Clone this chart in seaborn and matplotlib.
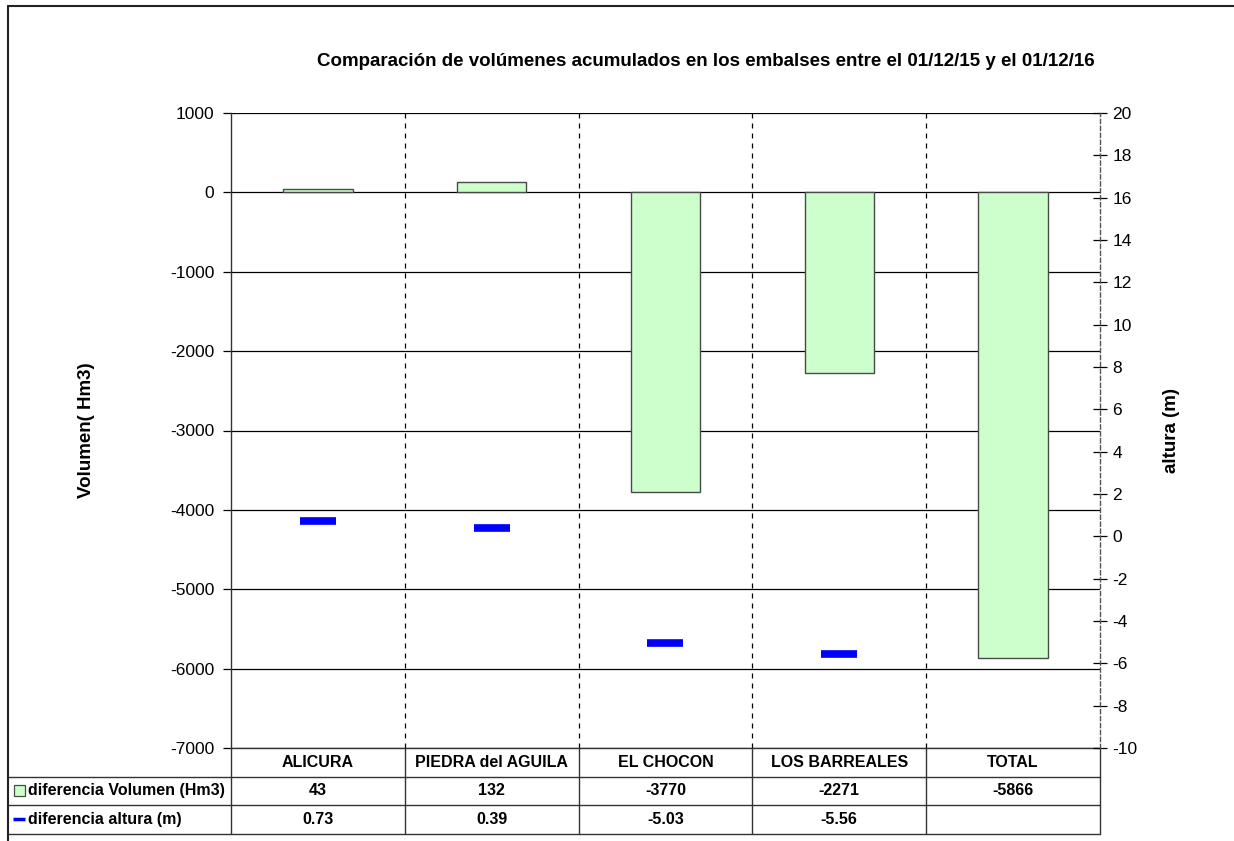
import matplotlib
matplotlib.use("Agg")
import matplotlib.pyplot as plt
import numpy as np
import pandas as pd
import seaborn as sns
from matplotlib.lines import Line2D
from matplotlib.patches import Rectangle
from matplotlib.transforms import blended_transform_factory

# Reservoir data: change between 01/12/15 and 01/12/16
embalses = ["ALICURA", "PIEDRA del AGUILA", "EL CHOCON", "LOS BARREALES", "TOTAL"]
dif_volumen = [43, 132, -3770, -2271, -5866]          # Hm3
dif_altura = [0.73, 0.39, -5.03, -5.56, np.nan]        # m (no value for TOTAL)
vol_labels = ["43", "132", "-3770", "-2271", "-5866"]
alt_labels = ["0.73", "0.39", "-5.03", "-5.56", ""]
serie_vol = "diferencia Volumen (Hm3)"
serie_alt = "diferencia altura (m)"

BAR_FILL = "#CCFFCC"
BAR_EDGE = "#4a4a4a"
ALT_COLOR = "#0000FF"

sns.set_theme(style="white")
plt.rcParams["font.family"] = ["Liberation Sans", "DejaVu Sans"]
plt.rcParams.update({"text.color": "black", "axes.labelcolor": "black",
                     "xtick.color": "black", "ytick.color": "black"})

W, H = 1234, 841
fig = plt.figure(figsize=(W / 100, H / 100), dpi=100)
L, R, T, B = 231, 1100, 113, 748
ax = fig.add_axes([L / W, 1 - B / H, (R - L) / W, (B - T) / H])

df = pd.DataFrame({"embalse": embalses, "volumen": dif_volumen})
sns.barplot(data=df, x="embalse", y="volumen", ax=ax, color=BAR_FILL,
            saturation=1, edgecolor=BAR_EDGE, linewidth=1.0, width=0.4, zorder=3)

ax.set_xlim(-0.5, len(embalses) - 0.5)
ax.set_ylim(-7000, 1000)
ax.set_yticks(np.arange(-7000, 1001, 1000))
ax.set_yticklabels([str(v) for v in range(-7000, 1001, 1000)])
ax.yaxis.grid(True, color="black", linewidth=0.9, zorder=0)
ax.xaxis.grid(False)
for b in np.arange(0.5, len(embalses) - 0.5, 1.0):
    ax.axvline(b, color="black", linewidth=0.9, linestyle=(0, (4, 4)), zorder=1)
ax.set_xticks(range(len(embalses)))
ax.set_xticklabels([])
ax.tick_params(axis="x", length=0)
ax.tick_params(axis="y", left=True, direction="out", length=6, width=0.9,
               color="black", labelsize=12.5, pad=6)
ax.set_xlabel("")
for s in ["top", "right", "bottom"]:
    ax.spines[s].set_visible(False)
ax.spines["left"].set_color("#333333")
ax.spines["left"].set_linewidth(1.0)
ax.set_ylabel("Volumen( Hm3)", fontsize=13.5, fontweight="bold")
ax.yaxis.set_label_coords((95 - L) / (R - L), 0.5)

# secondary axis: height change
ax2 = ax.twinx()
ax2.plot(range(len(embalses)), dif_altura, linestyle="none", marker="_",
         markersize=26, markeredgewidth=5.5, color=ALT_COLOR, zorder=4)
ax2.set_ylim(-10, 20)
ax2.set_yticks(np.arange(-10, 21, 2))
ax2.set_yticklabels([str(v) for v in range(-10, 21, 2)])
ax2.tick_params(axis="y", right=True, direction="inout", length=10, width=0.9,
                color="black", labelsize=12.5, pad=4)
for s in ["top", "left", "bottom"]:
    ax2.spines[s].set_visible(False)
ax2.spines["right"].set_linestyle((0, (3, 2)))
ax2.spines["right"].set_color("#555555")
ax2.spines["right"].set_linewidth(1.0)
ax2.set_ylabel("altura (m)", fontsize=13.5, fontweight="bold")
ax2.yaxis.set_label_coords((1163 - L) / (R - L), 0.5)
ax2.grid(False)

# title
fig.text(706 / W, 1 - 61 / H,
         "Comparación de volúmenes acumulados en los embalses entre el 01/12/15 y el 01/12/16",
         ha="center", va="center", fontsize=13.5, fontweight="bold")

# data table below the plot
rh = 28.5 / (B - T)                      # row height in axes fraction
x_left = (8 - L) / (R - L)               # outer left edge in axes fraction
tr = blended_transform_factory(ax.transData, ax.transAxes)
lc = "#333333"
lw = 1.0
for k, x0 in [(1, x_left), (2, x_left), (3, x_left), (0, 0.0)]:
    ax.add_line(Line2D([x0, 1.0], [-k * rh, -k * rh], transform=ax.transAxes,
                       color=lc, linewidth=lw, clip_on=False))
for b in np.arange(-0.5, len(embalses), 1.0):
    ax.add_line(Line2D([b, b], [0, -3 * rh], transform=tr,
                       color=lc, linewidth=lw, clip_on=False))

fs_tab = 11.5
tkw = dict(fontsize=fs_tab, fontweight="bold", ha="center", va="center", clip_on=False)
for i, name in enumerate(embalses):
    ax.text(i, -0.5 * rh, name, transform=tr, **tkw)
    ax.text(i, -1.5 * rh, vol_labels[i], transform=tr, **tkw)
    ax.text(i, -2.5 * rh, alt_labels[i], transform=tr, **tkw)

# row headers with legend keys
px = 1.0 / (R - L)
py = 1.0 / (B - T)
ax.add_patch(Rectangle((x_left + 6 * px, -1.5 * rh - 5.5 * py), 11 * px, 11 * py,
                       transform=ax.transAxes, facecolor=BAR_FILL, edgecolor=BAR_EDGE,
                       linewidth=0.9, clip_on=False))
ax.add_line(Line2D([x_left + 5 * px, x_left + 17 * px], [-2.5 * rh, -2.5 * rh],
                   transform=ax.transAxes, color=ALT_COLOR, linewidth=2.5,
                   solid_capstyle="butt", clip_on=False))
ax.text(x_left + 20 * px, -1.5 * rh, serie_vol, transform=ax.transAxes,
        fontsize=fs_tab, fontweight="bold", ha="left", va="center", clip_on=False)
ax.text(x_left + 20 * px, -2.5 * rh, serie_alt, transform=ax.transAxes,
        fontsize=fs_tab, fontweight="bold", ha="left", va="center", clip_on=False)

# chart-area frame (top and left edges)
fig.add_artist(Line2D([8 / W, 1.0], [1 - 6 / H, 1 - 6 / H], transform=fig.transFigure,
                      color="#222222", linewidth=1.5))
fig.add_artist(Line2D([8 / W, 8 / W], [0.0, 1 - 6 / H], transform=fig.transFigure,
                      color="#222222", linewidth=1.5))

fig.savefig("out.png", dpi=100)
